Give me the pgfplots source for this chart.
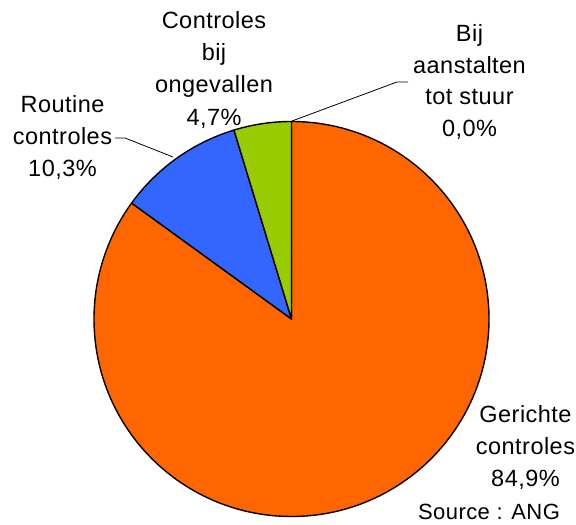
\documentclass[border=0pt]{standalone}
\usepackage{pgfplots}
\pgfplotsset{compat=1.18}
\usepackage{fontspec}
\setmainfont{Liberation Sans}[LetterSpace=2]
\newfontfamily\lab{Liberation Sans}[LetterSpace=2]
\definecolor{pieorange}{HTML}{FF6600}
\definecolor{pieblue}{HTML}{3366FF}
\definecolor{piegreen}{HTML}{99CC00}
% data (percent)
\def\vGer{84.9}
\def\vRou{10.3}
\def\vOng{4.7}
\def\vBij{0.0}
\def\vTot{99.9}
\begin{document}
\begin{tikzpicture}
\begin{axis}[width=576pt,height=525pt,scale only axis,
  xmin=0,xmax=576,ymin=0,ymax=525,hide axis,clip=false]
\addplot[draw=none] coordinates {(0,0) (576,525)};
\path (axis cs:0,0) (axis cs:576,525);
% sectors, clockwise from the top
\filldraw[fill=pieorange,draw=black,line width=1.4pt,line join=round]
  (axis cs:291.5,206) -- ++(90:197.5pt)
  arc[start angle=90, delta angle={-\vGer/\vTot*360}, radius=197.5pt] -- cycle;
\filldraw[fill=pieblue,draw=black,line width=1.4pt,line join=round]
  (axis cs:291.5,206) -- ++({90-\vGer/\vTot*360}:197.5pt)
  arc[start angle={90-\vGer/\vTot*360}, delta angle={-\vRou/\vTot*360}, radius=197.5pt] -- cycle;
\filldraw[fill=piegreen,draw=black,line width=1.4pt,line join=round]
  (axis cs:291.5,206) -- ++({90-(\vGer+\vRou)/\vTot*360}:197.5pt)
  arc[start angle={90-(\vGer+\vRou)/\vTot*360}, delta angle={-\vOng/\vTot*360}, radius=197.5pt] -- cycle;
\draw[black,line width=1.4pt] (axis cs:291.5,206) -- ++(90:197.5pt);
% leader lines
\draw[black,line width=0.8pt] (axis cs:115,387) -- (axis cs:125,387) -- (axis cs:173,368);
\draw[black,line width=0.8pt] (axis cs:292,404) -- (axis cs:397,443) -- (axis cs:408,443);
% labels
\tikzset{lbl/.style={anchor=base,inner sep=0pt,font=\lab\fontsize{23.5}{32}\selectfont}}
\node[lbl] at (axis cs:214,496.7) {Controles};
\node[lbl] at (axis cs:214,464.4) {bij};
\node[lbl] at (axis cs:214,432.1) {ongevallen};
\node[lbl] at (axis cs:214,399.8) {4,7\%};
\node[lbl] at (axis cs:62.5,412) {Routine};
\node[lbl] at (axis cs:62.5,380) {controles};
\node[lbl] at (axis cs:62.5,348) {10,3\%};
\node[lbl] at (axis cs:469.5,483) {Bij};
\node[lbl] at (axis cs:469.5,451.5) {aanstalten};
\node[lbl] at (axis cs:469.5,420) {tot stuur};
\node[lbl] at (axis cs:469.5,388) {0,0\%};
\node[lbl] at (axis cs:525.5,102) {Gerichte};
\node[lbl] at (axis cs:525.5,70) {controles};
\node[lbl] at (axis cs:525.5,38) {84,9\%};
\node[anchor=base,inner sep=0pt,font=\lab\fontsize{22}{28}\selectfont] at (axis cs:489,5) {Source : ANG};
\end{axis}
\end{tikzpicture}
\end{document}
